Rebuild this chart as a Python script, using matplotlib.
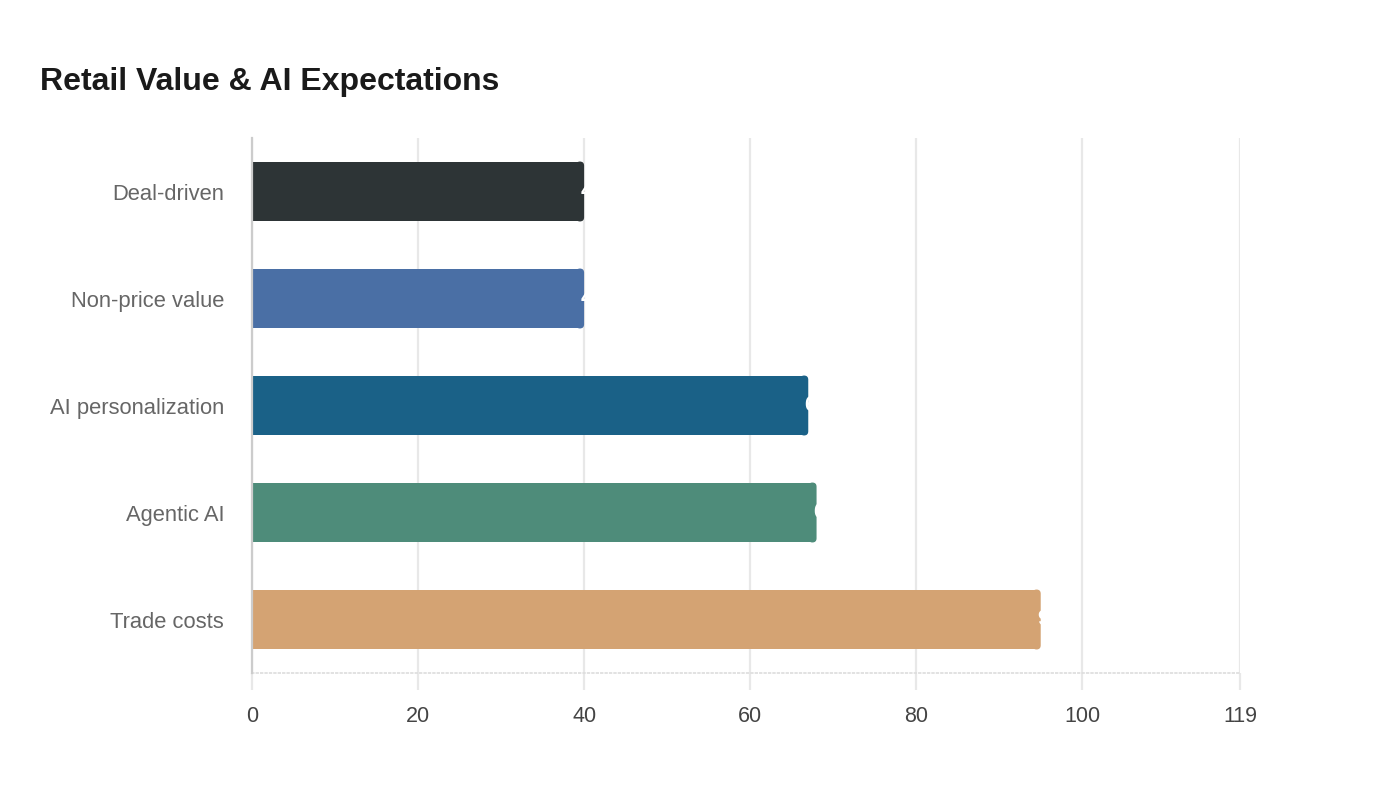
import matplotlib.pyplot as plt
from matplotlib.patches import FancyBboxPatch

plt.rcParams['font.family'] = ['Liberation Sans', 'DejaVu Sans']

# data (top to bottom)
categories = ['Deal-driven', 'Non-price value', 'AI personalization', 'Agentic AI', 'Trade costs']
values = [40, 40, 67, 68, 95]
colors = ['#2d3436', '#4a6fa5', '#1a6187', '#4e8c7a', '#d4a373']
x_ticks = [0, 20, 40, 60, 80, 100, 119]

fig = plt.figure(figsize=(14, 8), dpi=100)
ax = fig.add_axes([0.18, 0.15875, 0.7057, 0.66875])

pos = list(range(len(categories)))
bar_h = 0.56
r = 0.5  # corner radius in x units
aspect = (0.66875 * 800 / 5) / (0.7057 * 1400 / 119)  # y units per x unit, in px terms

bars = ax.barh(pos, [v - r for v in values], height=bar_h, color=colors, zorder=3)
for p, v, c in zip(pos, values, colors):
    cap = FancyBboxPatch((v - 2 * r, p - bar_h / 2), 2 * r, bar_h,
                         boxstyle=f'round,pad=0,rounding_size={r}',
                         mutation_aspect=1 / aspect, fc=c, ec='none', zorder=3)
    ax.add_patch(cap)
    # white value label, clipped by the bar like the reference
    t = ax.text(v - 0.45, p, str(v), color='white', fontsize=15.5, fontweight='bold',
                va='center', ha='left', zorder=4)
    clip = FancyBboxPatch((0, p - bar_h / 2), v, bar_h, boxstyle='square,pad=0',
                          transform=ax.transData, visible=False)
    ax.add_patch(clip)
    t.set_clip_path(clip)

ax.set_xlim(0, 119)
ax.set_ylim(len(categories) - 0.5, -0.5)
ax.set_yticks(pos)
ax.set_yticklabels(categories, color='#666666', fontsize=15.8)
ax.set_xticks(x_ticks)
ax.set_xticklabels([str(t) for t in x_ticks], color='#444444', fontsize=15.5)

ax.grid(axis='x', color='#e8e8e8', linewidth=1.6, zorder=0)
ax.tick_params(axis='y', length=0, pad=20)
ax.tick_params(axis='x', length=12, width=1.6, color='#e8e8e8', pad=12)

for s in ['top', 'right']:
    ax.spines[s].set_visible(False)
ax.spines['left'].set_color('#cccccc')
ax.spines['left'].set_linewidth(1.6)
ax.spines['left'].set_zorder(5)
ax.spines['bottom'].set_color('#dddddd')
ax.spines['bottom'].set_linestyle(':')
ax.spines['bottom'].set_linewidth(1.2)

fig.text(40 / 1400, 1 - 82 / 800, 'Retail Value & AI Expectations', fontsize=23,
         fontweight='bold', color='#1a1a1a', va='center', ha='left')

fig.savefig('out.png', dpi=100, facecolor='white')
